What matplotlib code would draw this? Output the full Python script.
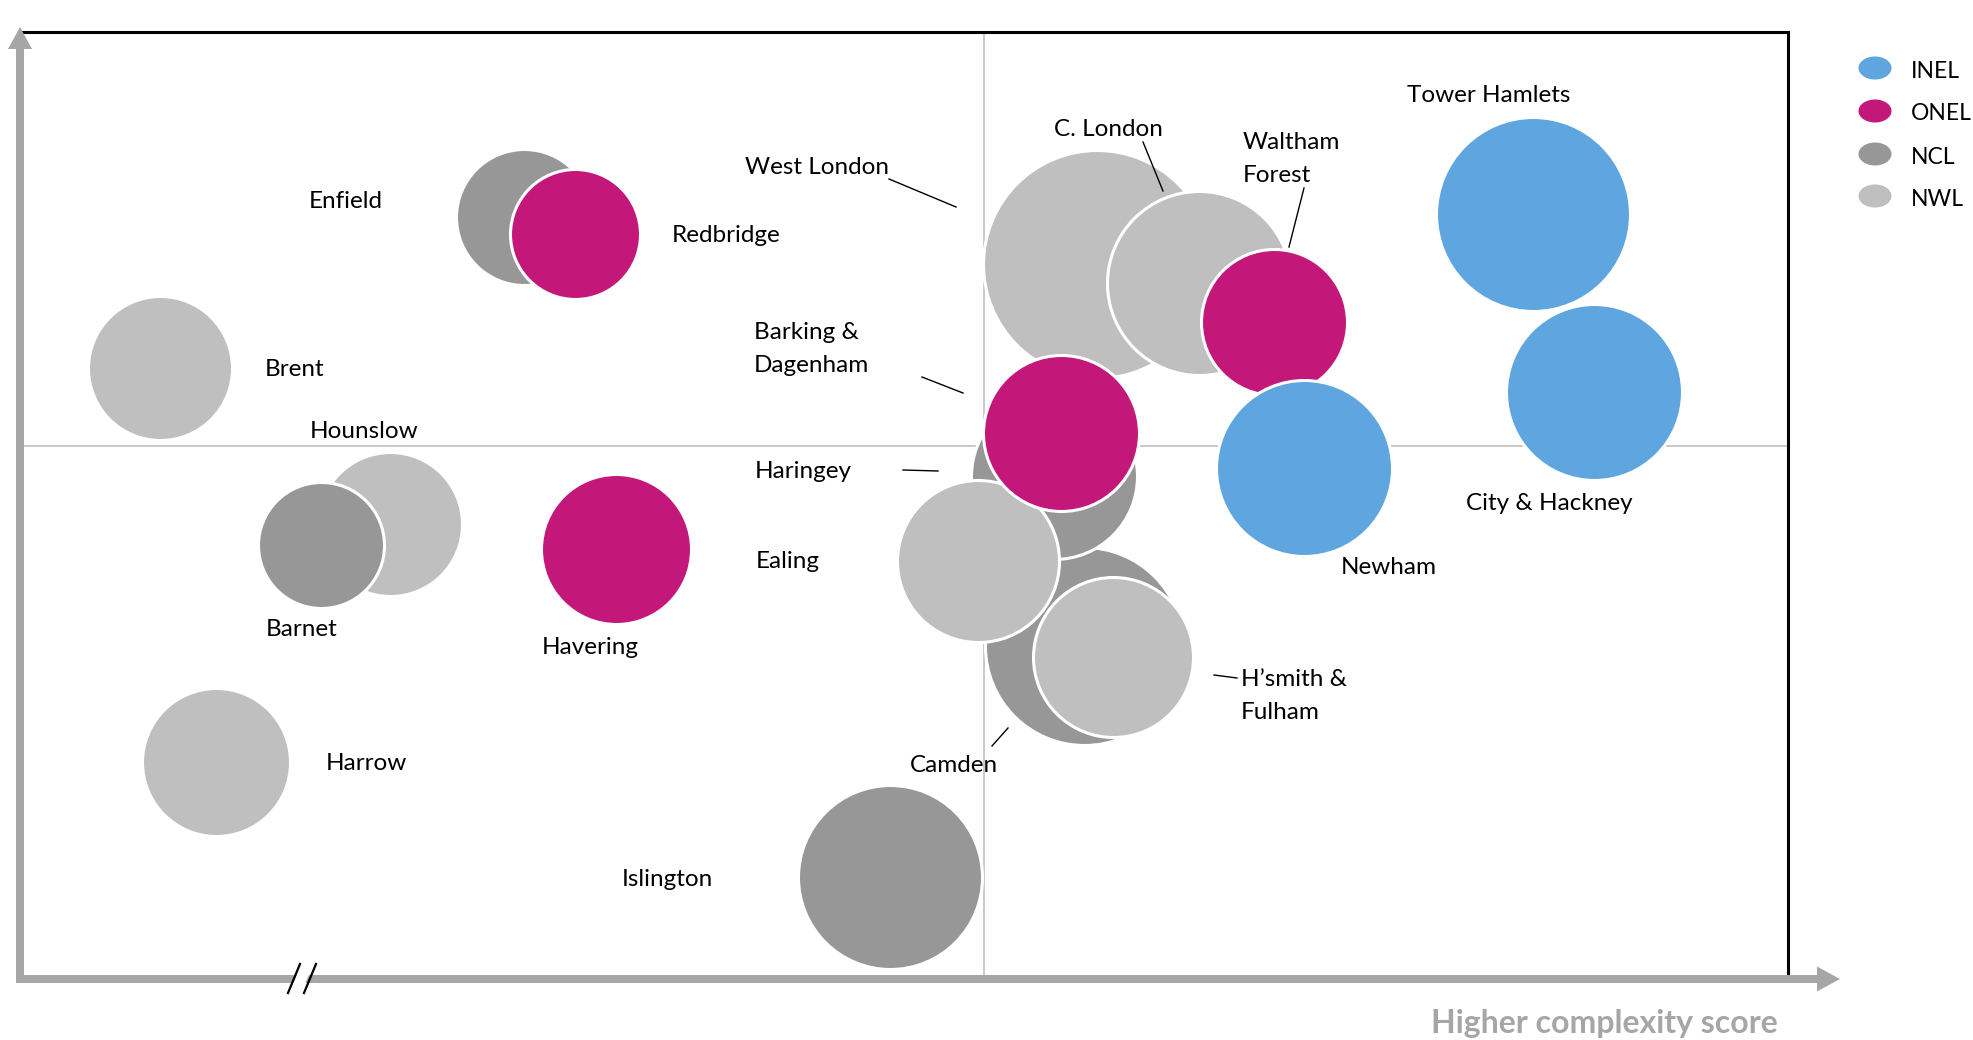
import matplotlib
matplotlib.use("Agg")
import matplotlib.pyplot as plt
from matplotlib.patches import Ellipse, Polygon, FancyArrow

plt.rcParams['font.family'] = ['Lato', 'DejaVu Sans']

# boroughs, drawn back to front
names = ['Enfield', 'Redbridge', 'Brent', 'Hounslow', 'Barnet', 'Havering', 'Harrow',
         'Islington', 'Camden', 'Haringey', 'West London', 'C. London', 'Waltham Forest',
         'Tower Hamlets', 'City & Hackney', 'Newham', 'Ealing', "H'smith & Fulham",
         'Barking & Dagenham']
group = ['NCL', 'ONEL', 'NWL', 'NWL', 'NCL', 'ONEL', 'NWL',
         'NCL', 'NCL', 'NCL', 'NWL', 'NWL', 'ONEL',
         'INEL', 'INEL', 'INEL', 'NWL', 'NWL', 'ONEL']
x = [28.5, 31.4, 7.9, 20.9, 17.0, 33.7, 11.1,
     49.2, 60.2, 58.5, 60.9, 66.7, 70.9,
     85.6, 89.0, 72.6, 54.2, 61.8, 58.9]
y = [80.5, 78.7, 64.5, 48.0, 45.8, 45.4, 22.9,
     10.8, 35.2, 53.1, 75.5, 73.5, 69.4,
     80.8, 62.0, 54.0, 44.1, 34.0, 57.7]
size = [68, 65, 72, 72, 63, 75, 74,
        92, 99, 83, 114, 92, 73,
        97, 88, 88, 81, 80, 78]

groups = ['INEL', 'ONEL', 'NCL', 'NWL']
colors = {'INEL': '#5fa5df', 'ONEL': '#c4177a', 'NCL': '#979797', 'NWL': '#bfbfbf'}

x_mid = 54.5
y_mid = 56.3

W, H = 1974, 1040
fig = plt.figure(figsize=(W / 100, H / 100), dpi=100)
ax = fig.add_axes([20 / W, 1 - 979 / H, 1768 / W, 947 / H])
ax.set_xlim(0, 100)
ax.set_ylim(0, 100)
ax.set_xticks([])
ax.set_yticks([])
for s in ['left', 'bottom']:
    ax.spines[s].set_visible(False)
for s in ['top', 'right']:
    ax.spines[s].set_linewidth(2.2)
    ax.spines[s].set_color('black')

ax.axvline(x_mid, color='#bfbfbf', lw=1.2, zorder=1)
ax.axhline(y_mid, color='#bfbfbf', lw=1.2, zorder=1)

for i in range(len(names)):
    d = 2 * size[i] * 0.72
    ax.scatter(x[i], y[i], s=d ** 2, color=colors[group[i]], edgecolors='white',
               linewidths=2.2, zorder=2 + i)

# overlay in pixel coords for arrows, labels, legend
ov = fig.add_axes([0, 0, 1, 1])
ov.set_xlim(0, W)
ov.set_ylim(H, 0)
ov.axis('off')

gray = '#a6a6a6'
ov.add_patch(FancyArrow(20, 983, 0, -956, width=8, head_width=24, head_length=22,
                        length_includes_head=True, color=gray, lw=0))
ov.add_patch(FancyArrow(16, 979, 1824, 0, width=8, head_width=25, head_length=23,
                        length_includes_head=True, color=gray, lw=0))
# axis break
ov.add_patch(Polygon([[293, 984], [298, 972], [310, 972], [305, 984]], color='white', lw=0))
ov.plot([288, 300], [993, 964], color='black', lw=1.6)
ov.plot([304, 316], [993, 964], color='black', lw=1.6)

ov.text(1778, 1023, 'Higher complexity score', ha='right', va='center', fontsize=23,
        fontweight='bold', color=gray)

fs = 17.5
dy = 3
labels = [
    ('Tower Hamlets', 1489, 93, 'center'),
    ('City & Hackney', 1549, 500, 'center'),
    ('Newham', 1389, 565, 'center'),
    ('Waltham\nForest', 1243, 156, 'left'),
    ('C. London', 1108, 126, 'center'),
    ('West London', 817, 164, 'center'),
    ('Barking &\nDagenham', 754, 346, 'left'),
    ('Haringey', 803, 468, 'center'),
    ('Ealing', 788, 559, 'center'),
    ("H’smith &\nFulham", 1241, 693, 'left'),
    ('Camden', 954, 762, 'center'),
    ('Islington', 667, 877, 'center'),
    ('Harrow', 366, 760, 'center'),
    ('Havering', 590, 645, 'center'),
    ('Barnet', 302, 626, 'center'),
    ('Hounslow', 364, 428, 'center'),
    ('Brent', 295, 366, 'center'),
    ('Enfield', 346, 199, 'center'),
    ('Redbridge', 726, 233, 'center'),
]
for t, lx, ly, ha in labels:
    ov.text(lx, ly + dy, t, ha=ha, va='center', fontsize=fs, color='black', linespacing=1.65)

leaders = [
    ((1304, 188), (1289, 247)),
    ((1143, 142), (1163, 191)),
    ((889, 179), (956, 207)),
    ((922, 377), (963, 393)),
    ((903, 470), (938, 471)),
    ((1214, 675), (1237, 678)),
    ((992, 746), (1008, 728)),
]
for (x0, y0), (x1, y1) in leaders:
    ov.plot([x0, x1], [y0, y1], color='black', lw=1.0)

# legend
leg_y = [68, 111, 154, 196]
for g, ly in zip(groups, leg_y):
    ov.add_patch(Ellipse((1875, ly), 33, 23, color=colors[g], lw=0))
    ov.text(1911, ly + 3, g, ha='left', va='center', fontsize=16.5, color='black')

fig.savefig('out.png', dpi=100)
